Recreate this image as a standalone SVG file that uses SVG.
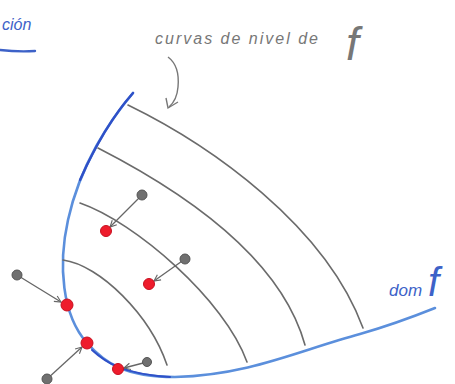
<svg xmlns="http://www.w3.org/2000/svg" width="455" height="384" viewBox="0 0 455 384">
<style>
.lvl{fill:none;stroke:#6b6b6b;stroke-width:1.6;stroke-linecap:round}
.dom{fill:none;stroke:#5b8fdc;stroke-width:2.6;stroke-linecap:round;stroke-linejoin:round}
.conn{fill:none;stroke:#666;stroke-width:1.3}
.grey{fill:#707070;stroke:#555;stroke-width:1}
.red{fill:#ee1c2c;stroke:#c81020;stroke-width:1}
.hand{font-family:"Liberation Sans",Arial,sans-serif;font-style:italic}
</style>
<defs>
<marker id="chev" viewBox="0 0 10 10" refX="9" refY="5" markerWidth="8" markerHeight="8" orient="auto" markerUnits="userSpaceOnUse">
<path d="M1,1 L9,5 L1,9" fill="none" stroke="#666" stroke-width="1.4"/>
</marker>
</defs>
<rect width="455" height="384" fill="#fff"/>
<g id="title-fragment">
<text class="hand" x="2" y="30" font-size="16" fill="#3d62c8">ción</text>
<path d="M0,50 Q18,52 35,51" fill="none" stroke="#3d62c8" stroke-width="2.4" stroke-linecap="round"/>
</g>
<g id="label-curvas">
<text class="hand" x="155" y="44" font-size="16" fill="#777" letter-spacing="2">curvas de nivel de</text>
<text class="hand" x="346" y="60" font-size="46" fill="#777">f</text>
<path d="M168,57 Q180,66 178,87 Q177,100 169,107" fill="none" stroke="#777" stroke-width="1.4"/>
<path d="M166,98 L168,108 L178,102" fill="none" stroke="#777" stroke-width="1.4"/>
</g>
<g id="domain">
<path class="dom" d="M133,93 C110,120 80,165 68,220 C58,265 62,315 87,343 C105,363 125,377 175,377 C250,375 300,350 360,334 C395,324 415,316 435,308"/>
<path d="M133,93 C118,110 100,135 80,180" fill="none" stroke="#2f50c8" stroke-width="2.4" stroke-linecap="round"/>
<path d="M92,350 C105,362 122,374 170,377" fill="none" stroke="#2f50c8" stroke-width="2" stroke-linecap="round"/>
<text class="hand" x="389" y="296" font-size="17" fill="#3d62c8">dom</text>
<text class="hand" x="428" y="296" font-size="40" fill="#3d62c8">f</text>
</g>
<g id="level-curves">
<path class="lvl" d="M128,105 C210,145 325,225 363,328"/>
<path class="lvl" d="M98,148 C180,190 280,255 305,345"/>
<path class="lvl" d="M80,203 C135,222 225,300 247,362"/>
<path class="lvl" d="M63,260 C100,265 150,315 167,365"/>
</g>
<g id="connectors">
<line class="conn" x1="142" y1="195" x2="110" y2="227" marker-end="url(#chev)"/>
<line class="conn" x1="185" y1="259" x2="154" y2="281" marker-end="url(#chev)"/>
<line class="conn" x1="17" y1="275" x2="61" y2="302" marker-end="url(#chev)"/>
<line class="conn" x1="47" y1="379" x2="82" y2="347" marker-end="url(#chev)"/>
<line class="conn" x1="147" y1="362" x2="124" y2="368" marker-end="url(#chev)"/>
</g>
<g id="p1"><circle class="grey" cx="142" cy="195" r="5"/><circle class="red" cx="106" cy="231" r="5.5"/></g>
<g id="p2"><circle class="grey" cx="185" cy="259" r="5"/><circle class="red" cx="149" cy="284" r="5.5"/></g>
<g id="p3"><circle class="grey" cx="17" cy="275" r="5"/><circle class="red" cx="67" cy="305" r="6"/></g>
<g id="p4"><circle class="grey" cx="47" cy="379" r="5"/><circle class="red" cx="87" cy="343" r="6"/></g>
<g id="p5"><circle class="grey" cx="147" cy="362" r="4.5"/><circle class="red" cx="118" cy="369" r="5.5"/></g>
</svg>
